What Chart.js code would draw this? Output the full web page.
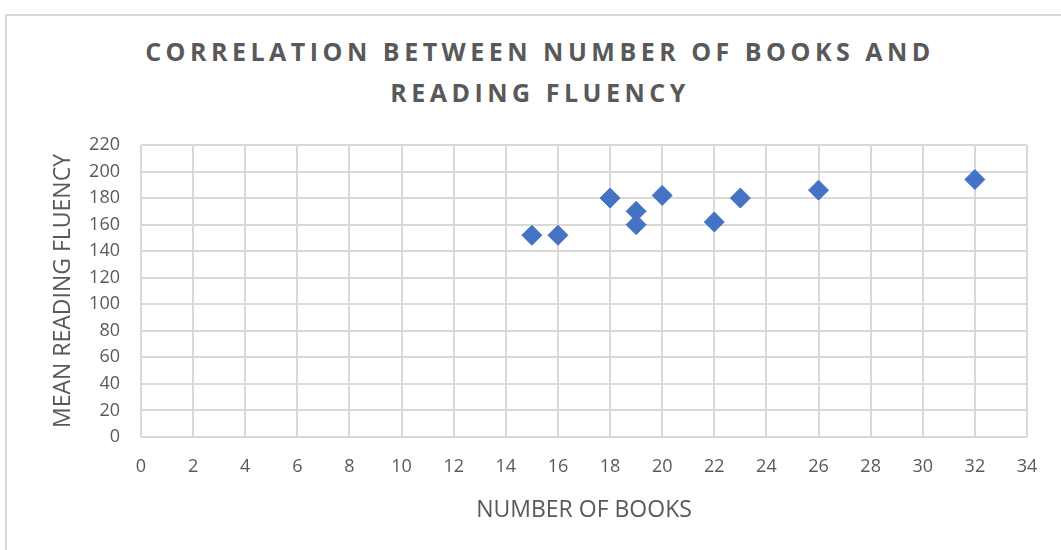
<!DOCTYPE html>
<html>
<head>
<meta charset="utf-8">
<script src="https://cdn.jsdelivr.net/npm/chart.js@4/dist/chart.umd.min.js"></script>
<style>
  html, body { margin: 0; padding: 0; background: #fff; }
  #wrap { position: relative; width: 1061px; height: 550px; overflow: hidden; }
  #frame { position: absolute; left: 5px; top: 14px; width: 1100px; height: 600px; border: 2px solid #d9d9d9; box-sizing: border-box; }
  #title {
    position: absolute; left: 0; top: 31px; width: 1080px; text-align: center;
    font-family: "Open Sans", sans-serif; font-weight: 700; font-size: 25px;
    letter-spacing: 4.5px; line-height: 41px; color: #595959;
  }
  #statsChart { position: absolute; left: 0; top: 0; }
</style>
</head>
<body>
<div id="wrap">
  <div id="frame"></div>
  <div id="title">CORRELATION BETWEEN NUMBER OF BOOKS AND<br>READING FLUENCY</div>
  <canvas id="statsChart" width="1061" height="550"></canvas>
</div>
<script>
// Chart data
const books = [15, 16, 18, 19, 19, 20, 22, 23, 26, 32];
const fluency = [152, 152, 180, 170, 160, 182, 162, 180, 186, 194];
const xTitle = 'NUMBER OF BOOKS';
const yTitle = 'MEAN READING FLUENCY';

const textColor = '#595959';
const gridColor = '#d9d9d9';

const ctx = document.getElementById('statsChart').getContext('2d');
new Chart(ctx, {
    type: 'scatter',
    data: {
        datasets: [{
            label: 'Fluency',
            data: books.map((b, i) => ({ x: b, y: fluency[i] })),
            backgroundColor: '#4472c4',
            borderColor: '#4472c4',
            pointStyle: 'rectRot',
            pointRadius: 10,
            pointHoverRadius: 10
        }]
    },
    options: {
        responsive: false,
        animation: false,
        layout: { padding: { top: 145, left: 50, right: 34, bottom: 26 } },
        plugins: {
            legend: { display: false },
            tooltip: { enabled: false }
        },
        scales: {
            x: {
                type: 'linear',
                min: 0,
                max: 34,
                ticks: {
                    stepSize: 2,
                    color: textColor,
                    font: { family: 'Open Sans', size: 18 },
                    padding: 19,
                    maxRotation: 0
                },
                grid: { color: gridColor, lineWidth: 2, drawTicks: false },
                border: { display: false },
                title: {
                    display: true,
                    text: xTitle,
                    color: textColor,
                    font: { family: 'Open Sans', size: 23 },
                    padding: { top: 0, bottom: 0 }
                },
                afterFit: scale => { scale.height = 87; }
            },
            y: {
                min: 0,
                max: 220,
                ticks: {
                    stepSize: 20,
                    color: textColor,
                    font: { family: 'Open Sans', size: 18 },
                    padding: 21
                },
                grid: { color: gridColor, lineWidth: 2, drawTicks: false },
                border: { display: false },
                title: {
                    display: true,
                    text: yTitle,
                    color: textColor,
                    font: { family: 'Open Sans', size: 23 },
                    padding: { top: 0, bottom: 0 }
                },
                afterFit: scale => { scale.width = 91; }
            }
        }
    }
});
</script>
</body>
</html>
